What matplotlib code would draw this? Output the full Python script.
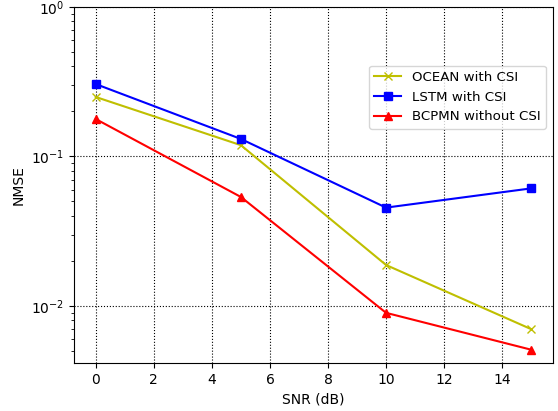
import matplotlib
matplotlib.use("Agg")
import matplotlib.pyplot as plt

snr = [0, 5, 10, 15]
ocean = [0.25, 0.119, 0.0188, 0.0070]
lstm = [0.305, 0.131, 0.0455, 0.0612]
bcpmn = [0.178, 0.0536, 0.0090, 0.0051]

fig = plt.figure(figsize=(5.58, 4.11), dpi=100)
ax = fig.add_axes([0.1326, 0.1168, 0.8584, 0.8662])
ax.semilogy(snr, ocean, 'y-x', label='OCEAN with CSI')
ax.semilogy(snr, lstm, 'b-s', label='LSTM with CSI')
ax.semilogy(snr, bcpmn, 'r-^', label='BCPMN without CSI')
ax.set_ylim(top=1)
ax.grid(True, which='major', color='k', linestyle=':', linewidth=0.8)
ax.set_xlabel('SNR (dB)')
ax.set_ylabel('NMSE')
ax.legend(loc='upper right', bbox_to_anchor=(0.999, 0.854), prop={'size': 9.6})
fig.savefig('out.png', dpi=100)
